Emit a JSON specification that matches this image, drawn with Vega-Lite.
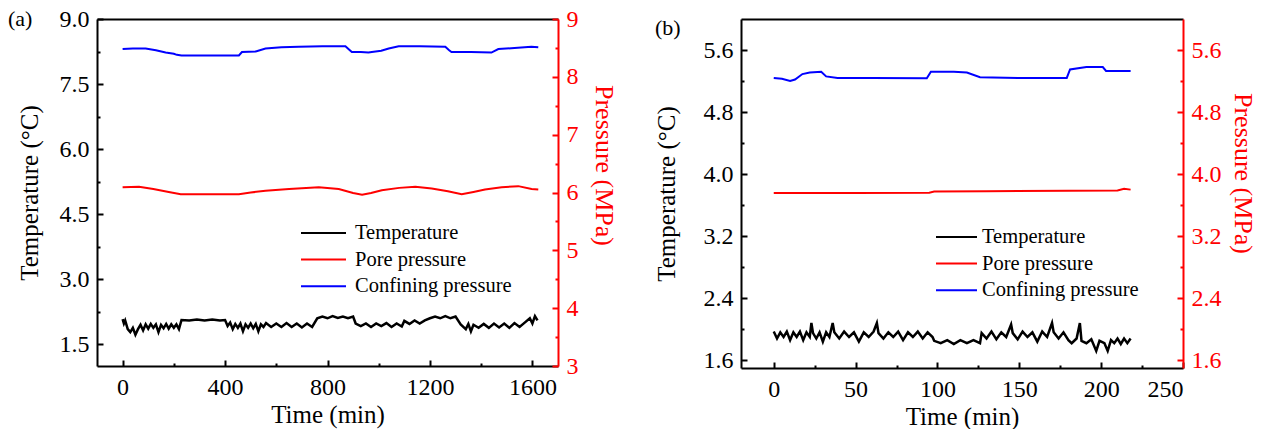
{
  "$schema": "https://vega.github.io/schema/vega-lite/v6.json",
  "background": "white",
  "padding": {"left": 8, "top": 7, "right": 0, "bottom": 0},
  "spacing": 38,
  "resolve": {"scale": {"color": "independent"}, "legend": {"color": "independent"}},
  "config": {
    "font": "Liberation Serif",
    "view": {"stroke": null},
    "axis": {"grid": false, "labelFont": "Liberation Serif", "titleFont": "Liberation Serif", "labelFontSize": 24, "titleFontSize": 25, "titleFontWeight": "normal", "labelColor": "black", "titleColor": "black", "domainColor": "black", "tickColor": "black", "domainWidth": 2, "tickWidth": 2, "tickSize": -6, "labelPadding": 14, "titlePadding": 10},
    "legend": {"labelFont": "Liberation Serif", "labelFontSize": 20.5, "labelColor": "black"},
    "title": {"font": "Liberation Serif", "fontSize": 22, "fontWeight": "normal", "color": "black"}
  },
  "datasets": {
    "a": [
      {"t":0,"v":2.08,"s":"Temperature"},{"t":5,"v":1.98,"s":"Temperature"},{"t":10,"v":2.05,"s":"Temperature"},{"t":20,"v":1.85,"s":"Temperature"},{"t":30,"v":1.78,"s":"Temperature"},{"t":40,"v":1.88,"s":"Temperature"},{"t":50,"v":1.72,"s":"Temperature"},{"t":60,"v":1.85,"s":"Temperature"},{"t":70,"v":1.95,"s":"Temperature"},{"t":80,"v":1.82,"s":"Temperature"},{"t":90,"v":1.96,"s":"Temperature"},{"t":100,"v":1.86,"s":"Temperature"},{"t":110,"v":1.97,"s":"Temperature"},{"t":120,"v":1.88,"s":"Temperature"},{"t":130,"v":1.96,"s":"Temperature"},{"t":140,"v":1.78,"s":"Temperature"},{"t":150,"v":1.95,"s":"Temperature"},{"t":160,"v":1.87,"s":"Temperature"},{"t":170,"v":1.97,"s":"Temperature"},{"t":180,"v":1.86,"s":"Temperature"},{"t":190,"v":1.96,"s":"Temperature"},{"t":200,"v":1.88,"s":"Temperature"},{"t":210,"v":1.96,"s":"Temperature"},{"t":220,"v":1.85,"s":"Temperature"},{"t":230,"v":2.06,"s":"Temperature"},{"t":260,"v":2.05,"s":"Temperature"},{"t":290,"v":2.07,"s":"Temperature"},{"t":320,"v":2.05,"s":"Temperature"},{"t":350,"v":2.07,"s":"Temperature"},{"t":380,"v":2.05,"s":"Temperature"},{"t":400,"v":2.06,"s":"Temperature"},{"t":410,"v":1.92,"s":"Temperature"},{"t":420,"v":2.0,"s":"Temperature"},{"t":430,"v":1.85,"s":"Temperature"},{"t":440,"v":1.97,"s":"Temperature"},{"t":450,"v":1.88,"s":"Temperature"},{"t":460,"v":1.98,"s":"Temperature"},{"t":470,"v":1.8,"s":"Temperature"},{"t":480,"v":1.96,"s":"Temperature"},{"t":490,"v":1.88,"s":"Temperature"},{"t":500,"v":1.98,"s":"Temperature"},{"t":510,"v":1.87,"s":"Temperature"},{"t":520,"v":1.97,"s":"Temperature"},{"t":530,"v":1.8,"s":"Temperature"},{"t":540,"v":1.96,"s":"Temperature"},{"t":550,"v":1.9,"s":"Temperature"},{"t":560,"v":1.99,"s":"Temperature"},{"t":580,"v":1.9,"s":"Temperature"},{"t":600,"v":1.98,"s":"Temperature"},{"t":620,"v":1.9,"s":"Temperature"},{"t":640,"v":1.99,"s":"Temperature"},{"t":660,"v":1.9,"s":"Temperature"},{"t":680,"v":1.98,"s":"Temperature"},{"t":700,"v":1.89,"s":"Temperature"},{"t":720,"v":1.98,"s":"Temperature"},{"t":740,"v":1.9,"s":"Temperature"},{"t":760,"v":2.1,"s":"Temperature"},{"t":780,"v":2.14,"s":"Temperature"},{"t":800,"v":2.1,"s":"Temperature"},{"t":820,"v":2.15,"s":"Temperature"},{"t":840,"v":2.11,"s":"Temperature"},{"t":860,"v":2.14,"s":"Temperature"},{"t":880,"v":2.1,"s":"Temperature"},{"t":900,"v":2.14,"s":"Temperature"},{"t":910,"v":1.98,"s":"Temperature"},{"t":930,"v":1.92,"s":"Temperature"},{"t":950,"v":1.98,"s":"Temperature"},{"t":970,"v":1.9,"s":"Temperature"},{"t":990,"v":1.98,"s":"Temperature"},{"t":1010,"v":1.92,"s":"Temperature"},{"t":1030,"v":1.99,"s":"Temperature"},{"t":1050,"v":1.9,"s":"Temperature"},{"t":1070,"v":1.98,"s":"Temperature"},{"t":1090,"v":1.91,"s":"Temperature"},{"t":1100,"v":2.04,"s":"Temperature"},{"t":1120,"v":1.97,"s":"Temperature"},{"t":1140,"v":2.05,"s":"Temperature"},{"t":1160,"v":1.98,"s":"Temperature"},{"t":1180,"v":2.05,"s":"Temperature"},{"t":1200,"v":2.1,"s":"Temperature"},{"t":1220,"v":2.14,"s":"Temperature"},{"t":1240,"v":2.1,"s":"Temperature"},{"t":1260,"v":2.15,"s":"Temperature"},{"t":1280,"v":2.1,"s":"Temperature"},{"t":1300,"v":2.14,"s":"Temperature"},{"t":1320,"v":1.96,"s":"Temperature"},{"t":1340,"v":1.85,"s":"Temperature"},{"t":1350,"v":1.97,"s":"Temperature"},{"t":1360,"v":1.8,"s":"Temperature"},{"t":1370,"v":1.95,"s":"Temperature"},{"t":1390,"v":1.88,"s":"Temperature"},{"t":1410,"v":1.97,"s":"Temperature"},{"t":1430,"v":1.88,"s":"Temperature"},{"t":1450,"v":1.98,"s":"Temperature"},{"t":1470,"v":1.89,"s":"Temperature"},{"t":1490,"v":1.98,"s":"Temperature"},{"t":1510,"v":1.88,"s":"Temperature"},{"t":1530,"v":1.99,"s":"Temperature"},{"t":1550,"v":1.9,"s":"Temperature"},{"t":1570,"v":2.0,"s":"Temperature"},{"t":1590,"v":2.1,"s":"Temperature"},{"t":1600,"v":1.98,"s":"Temperature"},{"t":1610,"v":2.15,"s":"Temperature"},{"t":1620,"v":2.05,"s":"Temperature"},
      {"t":0,"v":6.09,"s":"Pore pressure"},{"t":64,"v":6.1,"s":"Pore pressure"},{"t":120,"v":6.06,"s":"Pore pressure"},{"t":180,"v":6.01,"s":"Pore pressure"},{"t":227,"v":5.97,"s":"Pore pressure"},{"t":300,"v":5.97,"s":"Pore pressure"},{"t":454,"v":5.97,"s":"Pore pressure"},{"t":500,"v":6.0,"s":"Pore pressure"},{"t":558,"v":6.03,"s":"Pore pressure"},{"t":650,"v":6.06,"s":"Pore pressure"},{"t":766,"v":6.09,"s":"Pore pressure"},{"t":844,"v":6.06,"s":"Pore pressure"},{"t":900,"v":5.99,"s":"Pore pressure"},{"t":935,"v":5.96,"s":"Pore pressure"},{"t":970,"v":5.99,"s":"Pore pressure"},{"t":1012,"v":6.04,"s":"Pore pressure"},{"t":1080,"v":6.08,"s":"Pore pressure"},{"t":1143,"v":6.1,"s":"Pore pressure"},{"t":1207,"v":6.07,"s":"Pore pressure"},{"t":1270,"v":6.02,"s":"Pore pressure"},{"t":1324,"v":5.97,"s":"Pore pressure"},{"t":1370,"v":6.01,"s":"Pore pressure"},{"t":1415,"v":6.05,"s":"Pore pressure"},{"t":1480,"v":6.09,"s":"Pore pressure"},{"t":1545,"v":6.11,"s":"Pore pressure"},{"t":1597,"v":6.06,"s":"Pore pressure"},{"t":1623,"v":6.05,"s":"Pore pressure"},
      {"t":0,"v":8.48,"s":"Confining pressure"},{"t":40,"v":8.49,"s":"Confining pressure"},{"t":90,"v":8.49,"s":"Confining pressure"},{"t":130,"v":8.46,"s":"Confining pressure"},{"t":168,"v":8.42,"s":"Confining pressure"},{"t":200,"v":8.4,"s":"Confining pressure"},{"t":212,"v":8.38,"s":"Confining pressure"},{"t":230,"v":8.37,"s":"Confining pressure"},{"t":300,"v":8.37,"s":"Confining pressure"},{"t":380,"v":8.37,"s":"Confining pressure"},{"t":454,"v":8.37,"s":"Confining pressure"},{"t":466,"v":8.43,"s":"Confining pressure"},{"t":520,"v":8.44,"s":"Confining pressure"},{"t":558,"v":8.49,"s":"Confining pressure"},{"t":620,"v":8.51,"s":"Confining pressure"},{"t":688,"v":8.52,"s":"Confining pressure"},{"t":780,"v":8.53,"s":"Confining pressure"},{"t":870,"v":8.53,"s":"Confining pressure"},{"t":885,"v":8.47,"s":"Confining pressure"},{"t":895,"v":8.43,"s":"Confining pressure"},{"t":930,"v":8.43,"s":"Confining pressure"},{"t":960,"v":8.42,"s":"Confining pressure"},{"t":973,"v":8.43,"s":"Confining pressure"},{"t":1010,"v":8.45,"s":"Confining pressure"},{"t":1039,"v":8.49,"s":"Confining pressure"},{"t":1078,"v":8.53,"s":"Confining pressure"},{"t":1160,"v":8.53,"s":"Confining pressure"},{"t":1260,"v":8.52,"s":"Confining pressure"},{"t":1275,"v":8.46,"s":"Confining pressure"},{"t":1284,"v":8.43,"s":"Confining pressure"},{"t":1360,"v":8.43,"s":"Confining pressure"},{"t":1440,"v":8.42,"s":"Confining pressure"},{"t":1467,"v":8.48,"s":"Confining pressure"},{"t":1530,"v":8.5,"s":"Confining pressure"},{"t":1596,"v":8.52,"s":"Confining pressure"},{"t":1623,"v":8.51,"s":"Confining pressure"}
    ],
    "b": [
      {"t":0,"v":1.97,"s":"Temperature"},{"t":2,"v":1.88,"s":"Temperature"},{"t":4,"v":1.96,"s":"Temperature"},{"t":6,"v":1.9,"s":"Temperature"},{"t":8,"v":1.97,"s":"Temperature"},{"t":10,"v":1.86,"s":"Temperature"},{"t":12,"v":1.96,"s":"Temperature"},{"t":14,"v":1.9,"s":"Temperature"},{"t":16,"v":1.97,"s":"Temperature"},{"t":18,"v":1.86,"s":"Temperature"},{"t":20,"v":1.96,"s":"Temperature"},{"t":22,"v":1.9,"s":"Temperature"},{"t":23,"v":2.08,"s":"Temperature"},{"t":24,"v":1.95,"s":"Temperature"},{"t":26,"v":1.88,"s":"Temperature"},{"t":28,"v":1.96,"s":"Temperature"},{"t":30,"v":1.84,"s":"Temperature"},{"t":32,"v":1.96,"s":"Temperature"},{"t":34,"v":1.9,"s":"Temperature"},{"t":36,"v":2.08,"s":"Temperature"},{"t":37,"v":1.96,"s":"Temperature"},{"t":40,"v":1.88,"s":"Temperature"},{"t":43,"v":1.97,"s":"Temperature"},{"t":46,"v":1.9,"s":"Temperature"},{"t":49,"v":1.96,"s":"Temperature"},{"t":52,"v":1.84,"s":"Temperature"},{"t":55,"v":1.96,"s":"Temperature"},{"t":58,"v":1.9,"s":"Temperature"},{"t":61,"v":1.97,"s":"Temperature"},{"t":63,"v":2.08,"s":"Temperature"},{"t":64,"v":1.95,"s":"Temperature"},{"t":67,"v":1.88,"s":"Temperature"},{"t":70,"v":1.96,"s":"Temperature"},{"t":73,"v":1.9,"s":"Temperature"},{"t":76,"v":1.97,"s":"Temperature"},{"t":79,"v":1.86,"s":"Temperature"},{"t":82,"v":1.96,"s":"Temperature"},{"t":85,"v":1.9,"s":"Temperature"},{"t":88,"v":1.97,"s":"Temperature"},{"t":91,"v":1.88,"s":"Temperature"},{"t":94,"v":1.96,"s":"Temperature"},{"t":97,"v":1.9,"s":"Temperature"},{"t":98,"v":1.85,"s":"Temperature"},{"t":102,"v":1.82,"s":"Temperature"},{"t":106,"v":1.86,"s":"Temperature"},{"t":110,"v":1.81,"s":"Temperature"},{"t":114,"v":1.86,"s":"Temperature"},{"t":118,"v":1.82,"s":"Temperature"},{"t":122,"v":1.86,"s":"Temperature"},{"t":126,"v":1.82,"s":"Temperature"},{"t":127,"v":1.95,"s":"Temperature"},{"t":130,"v":1.88,"s":"Temperature"},{"t":133,"v":1.97,"s":"Temperature"},{"t":136,"v":1.87,"s":"Temperature"},{"t":139,"v":1.96,"s":"Temperature"},{"t":142,"v":1.9,"s":"Temperature"},{"t":145,"v":2.06,"s":"Temperature"},{"t":146,"v":1.95,"s":"Temperature"},{"t":149,"v":1.87,"s":"Temperature"},{"t":152,"v":1.97,"s":"Temperature"},{"t":155,"v":1.9,"s":"Temperature"},{"t":158,"v":1.96,"s":"Temperature"},{"t":161,"v":1.84,"s":"Temperature"},{"t":164,"v":1.97,"s":"Temperature"},{"t":167,"v":1.9,"s":"Temperature"},{"t":170,"v":2.08,"s":"Temperature"},{"t":171,"v":1.96,"s":"Temperature"},{"t":174,"v":1.88,"s":"Temperature"},{"t":177,"v":1.96,"s":"Temperature"},{"t":180,"v":1.86,"s":"Temperature"},{"t":182,"v":1.82,"s":"Temperature"},{"t":185,"v":1.88,"s":"Temperature"},{"t":187,"v":2.08,"s":"Temperature"},{"t":188,"v":1.85,"s":"Temperature"},{"t":191,"v":1.82,"s":"Temperature"},{"t":194,"v":1.87,"s":"Temperature"},{"t":197,"v":1.72,"s":"Temperature"},{"t":199,"v":1.85,"s":"Temperature"},{"t":202,"v":1.82,"s":"Temperature"},{"t":204,"v":1.72,"s":"Temperature"},{"t":206,"v":1.86,"s":"Temperature"},{"t":208,"v":1.82,"s":"Temperature"},{"t":210,"v":1.88,"s":"Temperature"},{"t":212,"v":1.81,"s":"Temperature"},{"t":214,"v":1.88,"s":"Temperature"},{"t":216,"v":1.82,"s":"Temperature"},{"t":218,"v":1.88,"s":"Temperature"},
      {"t":0,"v":3.755,"s":"Pore pressure"},{"t":50,"v":3.757,"s":"Pore pressure"},{"t":95,"v":3.76,"s":"Pore pressure"},{"t":98,"v":3.775,"s":"Pore pressure"},{"t":130,"v":3.78,"s":"Pore pressure"},{"t":180,"v":3.785,"s":"Pore pressure"},{"t":210,"v":3.79,"s":"Pore pressure"},{"t":214,"v":3.81,"s":"Pore pressure"},{"t":218,"v":3.8,"s":"Pore pressure"},
      {"t":0,"v":5.24,"s":"Confining pressure"},{"t":5,"v":5.23,"s":"Confining pressure"},{"t":10,"v":5.2,"s":"Confining pressure"},{"t":13,"v":5.22,"s":"Confining pressure"},{"t":17.5,"v":5.29,"s":"Confining pressure"},{"t":22,"v":5.31,"s":"Confining pressure"},{"t":29,"v":5.32,"s":"Confining pressure"},{"t":32,"v":5.26,"s":"Confining pressure"},{"t":39,"v":5.24,"s":"Confining pressure"},{"t":60,"v":5.24,"s":"Confining pressure"},{"t":93.5,"v":5.235,"s":"Confining pressure"},{"t":96,"v":5.32,"s":"Confining pressure"},{"t":110,"v":5.32,"s":"Confining pressure"},{"t":118,"v":5.31,"s":"Confining pressure"},{"t":126,"v":5.25,"s":"Confining pressure"},{"t":150,"v":5.24,"s":"Confining pressure"},{"t":179,"v":5.24,"s":"Confining pressure"},{"t":181,"v":5.35,"s":"Confining pressure"},{"t":191,"v":5.38,"s":"Confining pressure"},{"t":201,"v":5.38,"s":"Confining pressure"},{"t":203,"v":5.33,"s":"Confining pressure"},{"t":218,"v":5.33,"s":"Confining pressure"}
    ]
  },
  "hconcat": [
    {
      "width": 461, "height": 347,
      "title": {"text": "(a)", "anchor": "start", "frame": "group", "dx": -89, "offset": -24},
      "data": {"name": "a"},
      "resolve": {"scale": {"y": "independent"}, "axis": {"x": "independent", "y": "independent"}},
      "layer": [
        {
          "transform": [{"filter": "datum.s == 'Temperature'"}],
          "mark": {"type": "line", "strokeWidth": 2.5},
          "encoding": {
            "x": {"field": "t", "type": "quantitative", "scale": {"domain": [-100, 1700], "nice": false, "zero": false}, "axis": {"orient": "bottom", "values": [0, 400, 800, 1200, 1600], "format": "d", "labelPadding": 15, "title": "Time (min)", "titlePadding": 3}},
            "y": {"field": "v", "type": "quantitative", "scale": {"domain": [1, 9], "nice": false, "zero": false}, "axis": {"orient": "left", "values": [1.5, 3, 4.5, 6, 7.5, 9], "format": ".1f", "title": "Temperature (°C)", "titlePadding": 17}},
            "color": {"field": "s", "type": "nominal", "scale": {"domain": ["Temperature", "Pore pressure", "Confining pressure"], "range": ["black", "red", "blue"]},
              "legend": {"orient": "none", "legendX": 203, "legendY": 203, "title": null, "symbolType": "stroke", "symbolSize": 2025, "symbolStrokeWidth": 2, "labelOffset": 8, "clipHeight": 22, "rowPadding": 4.6}}
          }
        },
        {
          "transform": [{"filter": "datum.s != 'Temperature'"}],
          "mark": {"type": "line", "strokeWidth": 2},
          "encoding": {
            "x": {"field": "t", "type": "quantitative", "axis": {"orient": "bottom", "values": [200, 600, 1000, 1400], "tickSize": -3, "labels": false, "domain": false, "title": null}},
            "y": {"field": "v", "type": "quantitative", "scale": {"domain": [3, 9], "nice": false, "zero": false}, "axis": {"orient": "right", "values": [3, 4, 5, 6, 7, 8, 9], "format": "d", "title": "Pressure (MPa)", "titleFontSize": 26, "titleY": 146, "titlePadding": 12, "domainColor": "red", "tickColor": "red", "labelColor": "red", "titleColor": "red"}},
            "color": {"field": "s", "type": "nominal", "scale": {"domain": ["Temperature", "Pore pressure", "Confining pressure"], "range": ["black", "red", "blue"]},
              "legend": {"orient": "none", "legendX": 203, "legendY": 203, "title": null, "symbolType": "stroke", "symbolSize": 2025, "symbolStrokeWidth": 2, "labelOffset": 8, "clipHeight": 22, "rowPadding": 4.6}}
          }
        },
        {
          "transform": [{"filter": "datum.s == 'Temperature'"}],
          "mark": {"type": "line", "opacity": 0},
          "encoding": {
            "x": {"field": "t", "type": "quantitative", "axis": {"orient": "top", "ticks": false, "labels": false, "title": null}},
            "y": {"field": "v", "type": "quantitative", "scale": {"domain": [1, 9], "nice": false, "zero": false}, "axis": {"orient": "left", "values": [2.25, 3.75, 5.25, 6.75, 8.25], "tickSize": -3, "labels": false, "domain": false, "title": null}}
          }
        },
        {
          "transform": [{"filter": "datum.s != 'Temperature'"}],
          "mark": {"type": "line", "opacity": 0},
          "encoding": {
            "x": {"field": "t", "type": "quantitative", "axis": null},
            "y": {"field": "v", "type": "quantitative", "scale": {"domain": [3, 9], "nice": false, "zero": false}, "axis": {"orient": "right", "values": [3.5, 4.5, 5.5, 6.5, 7.5, 8.5], "tickSize": -3, "labels": false, "domain": false, "title": null, "tickColor": "red"}}
          }
        }
      ]
    },
    {
      "width": 442, "height": 349,
      "title": {"text": "(b)", "anchor": "start", "frame": "group", "dx": -86, "offset": -21},
      "data": {"name": "b"},
      "resolve": {"scale": {"y": "independent"}, "axis": {"x": "independent", "y": "independent"}},
      "layer": [
        {
          "transform": [{"filter": "datum.s == 'Temperature'"}],
          "mark": {"type": "line", "strokeWidth": 2.5},
          "encoding": {
            "x": {"field": "t", "type": "quantitative", "scale": {"domain": [-20, 250], "nice": false, "zero": false}, "axis": {"orient": "bottom", "values": [0, 50, 100, 150, 200, 250], "format": "d", "labelPadding": 15, "title": "Time (min)", "titlePadding": 3}},
            "y": {"field": "v", "type": "quantitative", "scale": {"domain": [1.5, 6.0], "nice": false, "zero": false}, "axis": {"orient": "left", "values": [1.6, 2.4, 3.2, 4.0, 4.8, 5.6], "format": ".1f", "title": "Temperature (°C)", "titlePadding": 24}},
            "color": {"field": "s", "type": "nominal", "scale": {"domain": ["Temperature", "Pore pressure", "Confining pressure"], "range": ["black", "red", "blue"]},
              "legend": {"orient": "none", "legendX": 194, "legendY": 207, "title": null, "symbolType": "stroke", "symbolSize": 1681, "symbolStrokeWidth": 2, "labelOffset": 4, "clipHeight": 22, "rowPadding": 4.6}}
          }
        },
        {
          "transform": [{"filter": "datum.s != 'Temperature'"}],
          "mark": {"type": "line", "strokeWidth": 2},
          "encoding": {
            "x": {"field": "t", "type": "quantitative", "axis": {"orient": "bottom", "values": [25, 75, 125, 175, 225], "tickSize": -3, "labels": false, "domain": false, "title": null}},
            "y": {"field": "v", "type": "quantitative", "scale": {"domain": [1.5, 6.0], "nice": false, "zero": false}, "axis": {"orient": "right", "values": [1.6, 2.4, 3.2, 4.0, 4.8, 5.6], "format": ".1f", "title": "Pressure (MPa)", "titleFontSize": 26, "titleY": 154, "titlePadding": 8, "domainColor": "red", "tickColor": "red", "labelColor": "red", "titleColor": "red"}},
            "color": {"field": "s", "type": "nominal", "scale": {"domain": ["Temperature", "Pore pressure", "Confining pressure"], "range": ["black", "red", "blue"]},
              "legend": {"orient": "none", "legendX": 194, "legendY": 207, "title": null, "symbolType": "stroke", "symbolSize": 1681, "symbolStrokeWidth": 2, "labelOffset": 4, "clipHeight": 22, "rowPadding": 4.6}}
          }
        },
        {
          "transform": [{"filter": "datum.s == 'Temperature'"}],
          "mark": {"type": "line", "opacity": 0},
          "encoding": {
            "x": {"field": "t", "type": "quantitative", "axis": {"orient": "top", "ticks": false, "labels": false, "title": null}},
            "y": {"field": "v", "type": "quantitative", "scale": {"domain": [1.5, 6.0], "nice": false, "zero": false}, "axis": {"orient": "left", "values": [2.0, 2.8, 3.6, 4.4, 5.2], "tickSize": -3, "labels": false, "domain": false, "title": null}}
          }
        },
        {
          "transform": [{"filter": "datum.s != 'Temperature'"}],
          "mark": {"type": "line", "opacity": 0},
          "encoding": {
            "x": {"field": "t", "type": "quantitative", "axis": null},
            "y": {"field": "v", "type": "quantitative", "scale": {"domain": [1.5, 6.0], "nice": false, "zero": false}, "axis": {"orient": "right", "values": [2.0, 2.8, 3.6, 4.4, 5.2], "tickSize": -3, "labels": false, "domain": false, "title": null, "tickColor": "red"}}
          }
        }
      ]
    }
  ]
}
